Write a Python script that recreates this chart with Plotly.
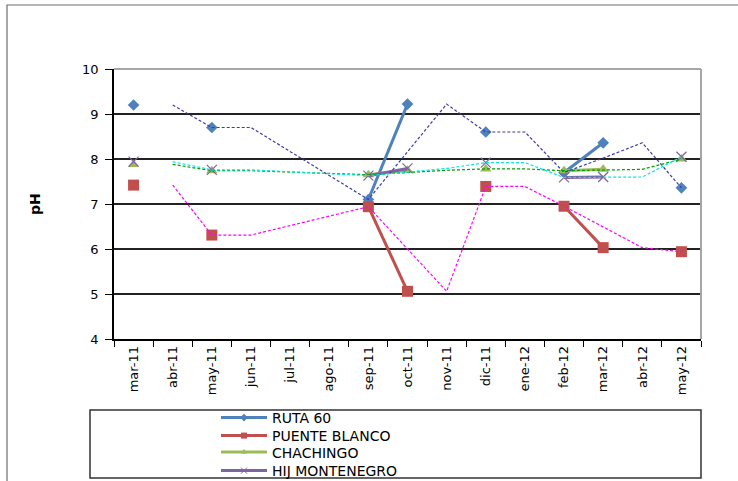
import plotly.graph_objects as go

categories = ["mar-11", "abr-11", "may-11", "jun-11", "jul-11", "ago-11", "sep-11",
              "oct-11", "nov-11", "dic-11", "ene-12", "feb-12", "mar-12", "abr-12", "may-12"]

ruta60 = [9.2, None, 8.7, None, None, None, 7.1, 9.22, None, 8.6, None, 7.7, 8.36, None, 7.36]
puente_blanco = [7.42, None, 6.31, None, None, None, 6.94, 5.06, None, 7.39, None, 6.95, 6.03, None, 5.94]
chachingo = [7.88, None, 7.74, None, None, None, 7.65, 7.75, None, 7.78, None, 7.74, 7.77, None, 8.0]
hij_montenegro = [7.94, None, 7.76, None, None, None, 7.63, 7.79, None, 7.92, None, 7.59, 7.6, None, 8.05]

# dashed trend curves (2-period moving averages)
ruta60_trend = [None, 9.2, 8.7, 8.7, None, None, 7.1, 8.16, 9.22, 8.6, 8.6, 7.7, 8.02, 8.36, 7.36]
puente_blanco_trend = [None, 7.42, 6.31, 6.31, None, None, 6.94, 6.0, 5.06, 7.39, 7.39, 6.95, 6.49, 6.03, 5.94]
chachingo_trend = [None, 7.88, 7.74, 7.74, None, None, 7.65, 7.7, 7.75, 7.78, 7.78, 7.74, 7.76, 7.77, 8.0]
hij_montenegro_trend = [None, 7.94, 7.76, 7.76, None, None, 7.63, 7.71, 7.79, 7.92, 7.92, 7.59, 7.6, 7.6, 8.05]

FONT = "DejaVu Sans"

W, H = 738, 481
L, R, T, B = 114, 701, 69, 339
pw, ph = R - L, B - T

def px_x(p):
    return (p - L) / pw

def px_y(p):
    return (B - p) / ph

fig = go.Figure()

series = [
    ("RUTA 60", ruta60, "#4F81BD", dict(symbol="diamond", size=9), dict(symbol="diamond", size=6)),
    ("PUENTE BLANCO", puente_blanco, "#C0504D", dict(symbol="square", size=11), dict(symbol="square", size=6)),
    ("CHACHINGO", chachingo, "#9BBB59", dict(symbol="triangle-up", size=10), dict(symbol="triangle-up", size=6)),
    ("HIJ MONTENEGRO", hij_montenegro, "#8064A2",
     dict(symbol="x-thin-open", size=10, line=dict(width=1.2, color="#8064A2")),
     dict(symbol="x-thin-open", size=6, line=dict(width=1, color="#8064A2"))),
]
legend_ids = ["legend", "legend2", "legend3", "legend4"]
legend_tops = [402, 420, 436.5, 455]

for (name, vals, color, mk, lmk) in series:
    fig.add_trace(go.Scatter(
        x=categories, y=vals, name=name, mode="lines+markers", showlegend=False,
        line=dict(color=color, width=3), marker=dict(color=color, **mk), connectgaps=False))

trends = [
    (ruta60_trend, "#3c3ca8"),
    (puente_blanco_trend, "#ff00ff"),
    (chachingo_trend, "#00a000"),
    (hij_montenegro_trend, "#00e8e8"),
]
for vals, color in trends:
    fig.add_trace(go.Scatter(
        x=categories, y=vals, mode="lines", showlegend=False, hoverinfo="skip",
        line=dict(color=color, width=1.2, dash="3px,2px"), connectgaps=True))

# legend entries (small markers, as in the reference legend)
for (name, vals, color, mk, lmk), lid in zip(series, legend_ids):
    fig.add_trace(go.Scatter(
        x=[categories[0]], y=[None], name=name, mode="lines+markers",
        line=dict(color=color, width=3), marker=dict(color=color, **lmk),
        legend=lid, hoverinfo="skip"))

shapes = [
    # outer chart border
    dict(type="rect", xref="paper", yref="paper", x0=px_x(7), x1=px_x(760),
         y0=px_y(500), y1=px_y(5), line=dict(color="#6e6e6e", width=1.2), layer="below"),
    # plot area top and right border
    dict(type="line", xref="paper", yref="paper", x0=0, x1=1, y0=1, y1=1,
         line=dict(color="#a6a6a6", width=2)),
    dict(type="line", xref="paper", yref="paper", x0=1, x1=1, y0=0, y1=1,
         line=dict(color="#a6a6a6", width=2)),
    # legend box
    dict(type="rect", xref="paper", yref="paper", x0=px_x(90), x1=px_x(701),
         y0=px_y(478), y1=px_y(410), line=dict(color="#333333", width=1.5)),
]

legend_style = dict(xanchor="left", yanchor="top", bgcolor="rgba(0,0,0,0)", borderwidth=0,
                    itemwidth=46, font=dict(family=FONT, size=14, color="black"))
layout_legends = {}
for lid, top in zip(legend_ids, legend_tops):
    layout_legends[lid] = dict(x=px_x(216), y=px_y(top), **legend_style)

fig.update_layout(
    width=W, height=H,
    margin=dict(l=L, r=W - R, t=T, b=H - B, autoexpand=False),
    paper_bgcolor="white", plot_bgcolor="white",
    font=dict(family=FONT, size=13, color="black"),
    showlegend=True,
    shapes=shapes,
    annotations=[dict(text="<b>pH</b>", xref="paper", yref="paper", x=px_x(35), y=0.5,
                      xanchor="center", yanchor="middle",
                      textangle=-90, showarrow=False, font=dict(family=FONT, size=14))],
    **layout_legends,
)

fig.update_xaxes(type="category", categoryorder="array", categoryarray=categories,
                 tickangle=-90, ticks="outside", tickson="boundaries", ticklen=6,
                 tickcolor="black", showline=True, linecolor="black", linewidth=1.5,
                 showgrid=False, range=[-0.5, len(categories) - 0.5],
                 tickfont=dict(family=FONT, size=13))
fig.update_yaxes(range=[4, 10], dtick=1, ticks="outside", ticklen=7, tickcolor="black",
                 showline=True, linecolor="black", linewidth=1.5, showgrid=True,
                 gridcolor="#222222", gridwidth=1.5, zeroline=False, ticklabelstandoff=4,
                 tickfont=dict(family=FONT, size=13))

fig.write_html("out.html", config={"displayModeBar": False})
